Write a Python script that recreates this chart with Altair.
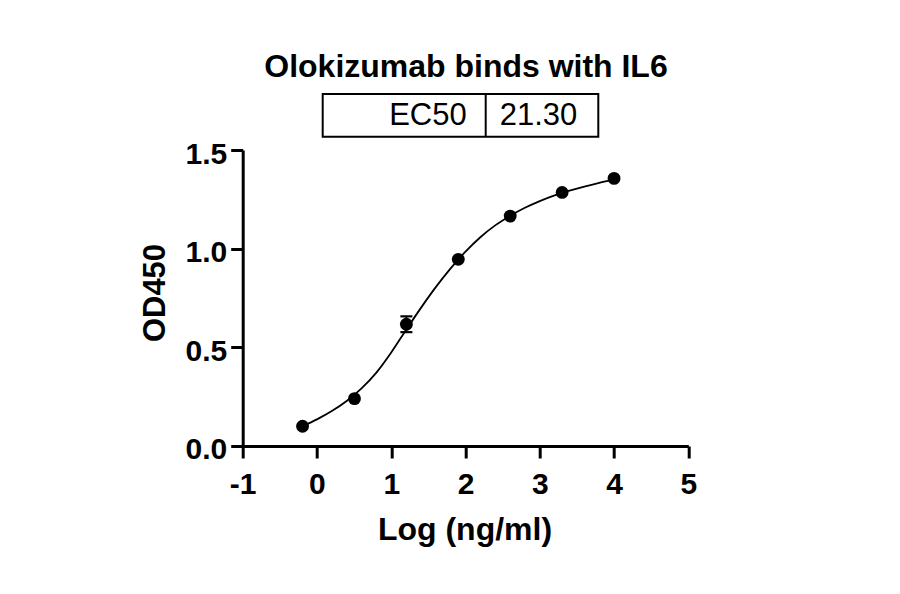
import altair as alt
import pandas as pd

# Data points (log concentration, OD450)
pt_x = [-0.194, 0.505, 1.204, 1.903, 2.602, 3.301, 4.0]
pt_y = [0.100, 0.240, 0.617, 0.946, 1.165, 1.285, 1.356]
err_lo = [0.100, 0.240, 0.577, 0.946, 1.165, 1.285, 1.356]
err_hi = [0.100, 0.240, 0.657, 0.946, 1.165, 1.285, 1.356]

# Fitted curve
curve_x = [-0.194, 0.0, 0.2, 0.4, 0.6, 0.8, 1.0, 1.2, 1.4, 1.6, 1.8, 2.0, 2.2,
           2.4, 2.6, 2.8, 3.0, 3.2, 3.4, 3.6, 3.8, 4.0]
curve_y = [0.100, 0.135, 0.177, 0.228, 0.292, 0.372, 0.474, 0.588, 0.700, 0.805,
           0.900, 0.985, 1.058, 1.118, 1.166, 1.207, 1.241, 1.270, 1.294, 1.315,
           1.334, 1.350]

x_ticks = [-1, 0, 1, 2, 3, 4, 5]
y_ticks = [0.0, 0.5, 1.0, 1.5]

title_text = "Olokizumab binds with IL6"
ec50_label = "EC50"
ec50_value = "21.30"
x_title = "Log (ng/ml)"
y_title = "OD450"

FONT = "Liberation Sans"

pts = pd.DataFrame({"x": pt_x, "y": pt_y, "lo": err_lo, "hi": err_hi})
crv = pd.DataFrame({"x": curve_x, "y": curve_y})
err = pts[pts["hi"] > pts["lo"]]
one = pd.DataFrame({"a": [0]})

xs = alt.Scale(domain=[-1, 5], nice=False, zero=False)
ys = alt.Scale(domain=[0, 1.5], nice=False, zero=False)

xax = alt.Axis(values=x_ticks, labelExpr="toString(datum.value)", title=None, grid=False,
               domainWidth=3, domainColor="black", tickWidth=3, tickColor="black",
               tickSize=12, labelFont=FONT, labelFontWeight="bold", labelFontSize=30,
               labelColor="black", labelBaseline="alphabetic", labelPadding=36,
               labelFlush=False, labelOverlap=False)
yax = alt.Axis(values=y_ticks, format=".1f", title=None, grid=False,
               domainWidth=3, domainColor="black", tickWidth=3, tickColor="black",
               tickSize=12, labelFont=FONT, labelFontWeight="bold", labelFontSize=30,
               labelColor="black", labelBaseline="alphabetic", labelOffset=13,
               labelPadding=4, labelFlush=False, labelOverlap=False)

line = alt.Chart(crv).mark_line(color="black", strokeWidth=1.8, interpolate="monotone").encode(
    x=alt.X("x:Q", scale=xs, axis=xax),
    y=alt.Y("y:Q", scale=ys, axis=yax),
)

dots = alt.Chart(pts).mark_circle(color="black", size=165, opacity=1).encode(
    x=alt.X("x:Q", scale=xs), y=alt.Y("y:Q", scale=ys))

erule = alt.Chart(err).mark_rule(color="black", strokeWidth=2).encode(
    x=alt.X("x:Q", scale=xs), y=alt.Y("lo:Q", scale=ys), y2="hi:Q")
ecap_lo = alt.Chart(err).mark_tick(color="black", orient="horizontal", size=12, thickness=2.2, opacity=1).encode(
    x=alt.X("x:Q", scale=xs), y=alt.Y("lo:Q", scale=ys))
ecap_hi = alt.Chart(err).mark_tick(color="black", orient="horizontal", size=12, thickness=2.2, opacity=1).encode(
    x=alt.X("x:Q", scale=xs), y=alt.Y("hi:Q", scale=ys))

title = alt.Chart(one).mark_text(text=title_text, font=FONT, fontWeight="bold", fontSize=32,
                                 align="center", baseline="alphabetic", color="black").encode(
    x=alt.value(223.3), y=alt.value(-73.3))

box = alt.Chart(one).mark_rect(fill="white", stroke="black", strokeWidth=2).encode(
    x=alt.value(80), x2=alt.value(355.6), y=alt.value(-56), y2=alt.value(-13.3))
divider = alt.Chart(one).mark_rule(color="black", strokeWidth=2).encode(
    x=alt.value(243), y=alt.value(-56), y2=alt.value(-13.3))
ec_l = alt.Chart(one).mark_text(text=ec50_label, font=FONT, fontSize=31, align="right",
                                baseline="alphabetic", color="black").encode(
    x=alt.value(224), y=alt.value(-25))
ec_v = alt.Chart(one).mark_text(text=ec50_value, font=FONT, fontSize=31, align="left",
                                baseline="alphabetic", color="black").encode(
    x=alt.value(257), y=alt.value(-25))

xt = alt.Chart(one).mark_text(text=x_title, font=FONT, fontWeight="bold", fontSize=32,
                              align="center", baseline="alphabetic", color="black").encode(
    x=alt.value(222.3), y=alt.value(390))
yt = alt.Chart(one).mark_text(text=y_title, font=FONT, fontWeight="bold", fontSize=31,
                              align="center", baseline="alphabetic", angle=270, color="black").encode(
    x=alt.value(-78), y=alt.value(143))

chart = alt.layer(line, erule, ecap_lo, ecap_hi, dots, title, box, divider, ec_l, ec_v, xt, yt).properties(
    width=445.6, height=296,
    autosize=alt.AutoSizeParams(type="none"),
    padding={"left": 234.7, "top": 142, "right": 190, "bottom": 130},
    background="white",
).configure_view(stroke=None)

chart.save("out.html", embed_options={"renderer": "svg", "actions": False})
